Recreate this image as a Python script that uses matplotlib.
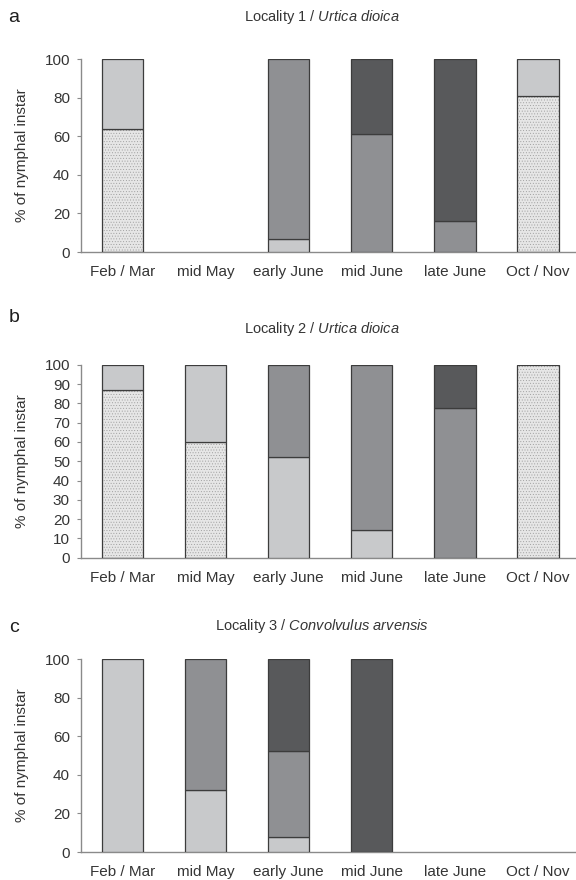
import matplotlib
matplotlib.use('Agg')
import matplotlib.pyplot as plt
import numpy as np

plt.rcParams['font.family'] = ['Liberation Sans', 'DejaVu Sans']
plt.rcParams['mathtext.fontset'] = 'custom'
plt.rcParams['mathtext.it'] = 'Liberation Sans:italic'
plt.rcParams['mathtext.rm'] = 'Liberation Sans'
plt.rcParams['hatch.linewidth'] = 0.35

periods = ['Feb / Mar', 'mid May', 'early June', 'mid June', 'late June', 'Oct / Nov']

# % of nymphal instar per group, stacked bottom to top: dotted, light, medium, dark
# Locality 1 / Urtica dioica
loc1_dotted = [64, 0, 0, 0, 0, 81]
loc1_light = [36, 0, 6.6, 0, 0, 19]
loc1_medium = [0, 0, 93.4, 61, 16, 0]
loc1_dark = [0, 0, 0, 39, 84, 0]

# Locality 2 / Urtica dioica
loc2_dotted = [87, 60, 0, 0, 0, 100]
loc2_light = [13, 40, 52.4, 14.2, 0, 0]
loc2_medium = [0, 0, 47.6, 85.8, 77.6, 0]
loc2_dark = [0, 0, 0, 0, 22.4, 0]

# Locality 3 / Convolvulus arvensis
loc3_dotted = [0, 0, 0, 0, 0, 0]
loc3_light = [100, 32, 8, 0, 0, 0]
loc3_medium = [0, 68, 44.2, 0, 0, 0]
loc3_dark = [0, 0, 47.8, 100, 0, 0]

fill_colors = ['#e6e6e6', '#c8c9cb', '#8f9093', '#58595b']
edge = '#3c3c3c'
text_col = '#353535'


def draw_panel(ax, series, yticks):
    x = np.arange(len(periods))
    bottom = np.zeros(len(periods))
    for i, vals in enumerate(series):
        vals = np.array(vals, dtype=float)
        keep = vals > 0
        if i == 0:
            # dotted group: hatch first, then outline on top
            ax.bar(x[keep], vals[keep], 0.5, bottom=bottom[keep], color=fill_colors[0],
                   edgecolor='#9c9c9c', hatch='......', linewidth=0, zorder=2)
            ax.bar(x[keep], vals[keep], 0.5, bottom=bottom[keep], fill=False,
                   edgecolor=edge, linewidth=0.9, zorder=3)
        else:
            ax.bar(x[keep], vals[keep], 0.5, bottom=bottom[keep], color=fill_colors[i],
                   edgecolor=edge, linewidth=0.9, zorder=3)
        bottom = bottom + vals
    ax.set_xlim(-0.5, 5.46)
    ax.set_ylim(0, 100)
    ax.set_xticks(x)
    ax.set_xticklabels(periods)
    ax.set_yticks(yticks)
    for side in ['top', 'right']:
        ax.spines[side].set_visible(False)
    for side in ['left', 'bottom']:
        ax.spines[side].set_color('#8a8a8a')
        ax.spines[side].set_linewidth(1.0)
    ax.tick_params(axis='x', length=0, pad=9.5, labelsize=11, colors=text_col)
    ax.tick_params(axis='y', length=3, width=0.8, color='#8a8a8a', pad=5,
                   labelsize=11, labelcolor=text_col)
    ax.set_ylabel('% of nymphal instar', fontsize=11, color=text_col, labelpad=11)


fig = plt.figure(figsize=(5.76, 8.8), dpi=100)

panels = [
    ('a', 'Locality 1 / ', 'Urtica dioica', [loc1_dotted, loc1_light, loc1_medium, loc1_dark],
     np.arange(0, 101, 20), 0.7136, 17, 17),
    ('b', 'Locality 2 / ', 'Urtica dioica', [loc2_dotted, loc2_light, loc2_medium, loc2_dark],
     np.arange(0, 101, 10), 0.3662, 318, 329),
    ('c', 'Locality 3 / ', 'Convolvulus arvensis', [loc3_dotted, loc3_light, loc3_medium, loc3_dark],
     np.arange(0, 101, 20), 0.0318, 628, 626),
]

for letter, place, plant, series, yticks, bot, letter_y, title_y in panels:
    ax = fig.add_axes([81 / 576, bot, 495 / 576, 0.2193])
    draw_panel(ax, series, yticks)
    fig.text(14 / 576, 1 - letter_y / 880, letter, fontsize=14, ha='center', va='center',
             color='#1e1e1e')
    fig.text(322 / 576, 1 - title_y / 880,
             place + r'$\mathit{' + plant.replace(' ', r'\ ') + '}$',
             fontsize=10.5, ha='center', va='center', color=text_col)

fig.savefig('out.png', dpi=100)
